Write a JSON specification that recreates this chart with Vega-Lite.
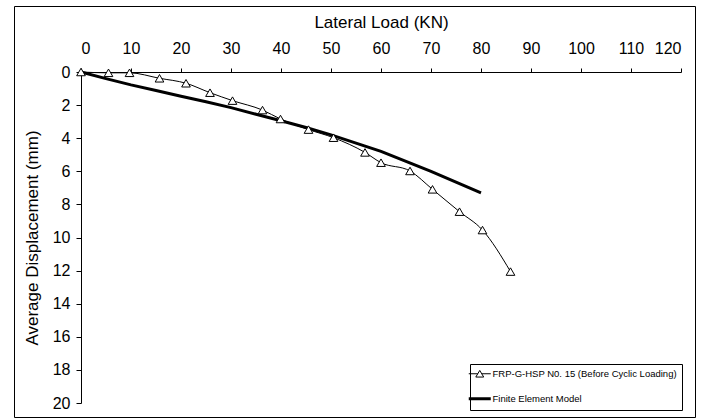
{
  "$schema": "https://vega.github.io/schema/vega-lite/v6.json",
  "width": 681,
  "height": 411,
  "autosize": "none",
  "padding": {"left": 14, "top": 6, "right": 11, "bottom": 1},
  "background": "white",
  "config": {
    "view": {"stroke": "black", "strokeWidth": 1},
    "font": "Liberation Sans",
    "axis": {"grid": false, "domainColor": "black", "tickColor": "black", "labelColor": "black", "titleColor": "black", "labelFont": "Liberation Sans", "titleFont": "Liberation Sans", "labelFontSize": 16, "titleFontSize": 17, "titleFontWeight": "normal"}
  },
  "data": {"values": [
    {"series": "FRP-G-HSP N0. 15 (Before Cyclic Loading)", "load": 0, "disp": 0},
    {"series": "FRP-G-HSP N0. 15 (Before Cyclic Loading)", "load": 5.5, "disp": 0.05},
    {"series": "FRP-G-HSP N0. 15 (Before Cyclic Loading)", "load": 9.7, "disp": 0.05},
    {"series": "FRP-G-HSP N0. 15 (Before Cyclic Loading)", "load": 15.7, "disp": 0.38},
    {"series": "FRP-G-HSP N0. 15 (Before Cyclic Loading)", "load": 21, "disp": 0.68},
    {"series": "FRP-G-HSP N0. 15 (Before Cyclic Loading)", "load": 25.8, "disp": 1.25},
    {"series": "FRP-G-HSP N0. 15 (Before Cyclic Loading)", "load": 30.3, "disp": 1.73},
    {"series": "FRP-G-HSP N0. 15 (Before Cyclic Loading)", "load": 36.3, "disp": 2.3},
    {"series": "FRP-G-HSP N0. 15 (Before Cyclic Loading)", "load": 39.9, "disp": 2.84},
    {"series": "FRP-G-HSP N0. 15 (Before Cyclic Loading)", "load": 45.5, "disp": 3.48},
    {"series": "FRP-G-HSP N0. 15 (Before Cyclic Loading)", "load": 50.5, "disp": 3.97},
    {"series": "FRP-G-HSP N0. 15 (Before Cyclic Loading)", "load": 56.8, "disp": 4.86},
    {"series": "FRP-G-HSP N0. 15 (Before Cyclic Loading)", "load": 60, "disp": 5.48},
    {"series": "FRP-G-HSP N0. 15 (Before Cyclic Loading)", "load": 65.8, "disp": 5.98},
    {"series": "FRP-G-HSP N0. 15 (Before Cyclic Loading)", "load": 70.3, "disp": 7.09},
    {"series": "FRP-G-HSP N0. 15 (Before Cyclic Loading)", "load": 75.7, "disp": 8.44},
    {"series": "FRP-G-HSP N0. 15 (Before Cyclic Loading)", "load": 80.3, "disp": 9.55},
    {"series": "FRP-G-HSP N0. 15 (Before Cyclic Loading)", "load": 85.9, "disp": 12.06},
    {"series": "Finite Element Model", "load": 0, "disp": 0},
    {"series": "Finite Element Model", "load": 5, "disp": 0.4},
    {"series": "Finite Element Model", "load": 10, "disp": 0.78},
    {"series": "Finite Element Model", "load": 15, "disp": 1.12},
    {"series": "Finite Element Model", "load": 20, "disp": 1.47},
    {"series": "Finite Element Model", "load": 25, "disp": 1.8},
    {"series": "Finite Element Model", "load": 30, "disp": 2.15},
    {"series": "Finite Element Model", "load": 35, "disp": 2.55},
    {"series": "Finite Element Model", "load": 40, "disp": 2.95},
    {"series": "Finite Element Model", "load": 45, "disp": 3.35},
    {"series": "Finite Element Model", "load": 50, "disp": 3.8},
    {"series": "Finite Element Model", "load": 55, "disp": 4.3},
    {"series": "Finite Element Model", "load": 60, "disp": 4.8},
    {"series": "Finite Element Model", "load": 65, "disp": 5.4},
    {"series": "Finite Element Model", "load": 70, "disp": 6.0},
    {"series": "Finite Element Model", "load": 75, "disp": 6.65},
    {"series": "Finite Element Model", "load": 80, "disp": 7.3}
  ]},
  "encoding": {
    "x": {"field": "load", "type": "quantitative", "scale": {"domain": [0, 120], "range": [67, 667], "nice": false, "zero": false},
      "axis": {"orient": "top", "offset": -66, "values": [0,10,20,30,40,50,60,70,80,90,100,110,120], "tickSize": 4, "labelPadding": 12, "title": "Lateral Load (KN)", "titleBaseline": "alphabetic", "titleY": -45}},
    "y": {"field": "disp", "type": "quantitative", "scale": {"domain": [0, 20], "range": [66, 397], "nice": false, "zero": false},
      "axis": {"orient": "left", "offset": -67, "values": [0,2,4,6,8,10,12,14,16,18,20], "tickSize": 5, "labelPadding": 6, "title": "Average Displacement (mm)", "titleBaseline": "alphabetic", "titleX": -44, "titleY": 231.5}}
  },
  "layer": [
    {
      "transform": [{"filter": "datum.series === 'FRP-G-HSP N0. 15 (Before Cyclic Loading)'"}],
      "mark": {"type": "line", "strokeWidth": 1, "interpolate": "monotone"},
      "encoding": {
        "color": {"field": "series", "type": "nominal",
          "scale": {"domain": ["FRP-G-HSP N0. 15 (Before Cyclic Loading)", "Finite Element Model"], "range": ["black", "black"]},
          "legend": {"orient": "none", "legendX": 456, "legendY": 358, "title": null, "strokeColor": "black", "fillColor": "white", "padding": 5, "rowPadding": 12,
            "symbolSize": 484, "labelFont": "Liberation Sans", "labelFontSize": 9.5, "labelColor": "black", "labelOffset": 8, "labelLimit": 400,
            "encode": {"symbols": {"update": {
              "shape": {"signal": "datum.label === 'Finite Element Model' ? 'M-1,0H1' : 'M-1,0H-0.18M0.18,0H1M-0.36,0.3L0,-0.3L0.36,0.3Z'"},
              "strokeWidth": {"signal": "datum.label === 'Finite Element Model' ? 3 : 1"},
              "fill": {"value": "white"},
              "stroke": {"value": "black"}
            }}}}
        }
      }
    },
    {
      "transform": [{"filter": "datum.series === 'Finite Element Model'"}],
      "mark": {"type": "line", "strokeWidth": 3},
      "encoding": {
        "color": {"field": "series", "type": "nominal"}
      }
    },
    {
      "transform": [{"filter": "datum.series === 'FRP-G-HSP N0. 15 (Before Cyclic Loading)'"}],
      "mark": {"type": "point", "shape": "triangle-up", "size": 75, "filled": true, "fill": "white", "stroke": "black", "strokeWidth": 1, "opacity": 1}
    }
  ]
}
